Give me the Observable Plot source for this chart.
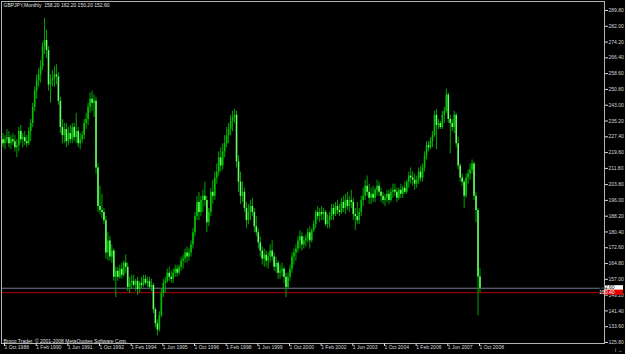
<!DOCTYPE html>
<html><head><meta charset="utf-8">
<script src="https://cdn.jsdelivr.net/npm/d3@7"></script>
<script src="https://cdn.jsdelivr.net/npm/@observablehq/plot@0.6"></script>
<style>
html,body{margin:0;padding:0;background:#000;overflow:hidden;}
svg{display:block}
</style></head><body><div id="chart"></div>
<script>
// Monthly GBPJPY bars, Oct 1988 (index 0) .. Nov 2008 (index 241)
const open = [
226,224,226,227,224,226,225,222,223,230,226,227,225,224,230,234,242,250,255,258,
262,272,275,270,253,255,256,258,257,245,232,228,231,225,229,226,232,227,230,224,
226,228,234,236,242,246,244,245,212,193,191,190,186,170,176,168,171,158,161,158,
162,159,165,163,153,155,156,154,156,152,155,154,157,155,156,153,154,142,135,132,
139,150,155,156,160,158,157,160,162,160,163,166,167,170,168,170,174,180,188,195,
190,196,198,196,185,190,200,198,207,210,217,213,220,224,228,231,235,237,238,215,
205,198,200,192,186,190,193,190,183,180,175,171,167,169,166,168,171,168,163,165,
160,161,162,158,153,158,162,168,170,172,176,178,174,176,177,180,176,181,184,190,
188,190,189,190,184,186,188,192,189,193,191,190,195,192,196,193,196,195,189,188,
186,190,196,198,203,200,197,199,197,201,203,200,198,196,197,199,196,200,201,200,
197,201,199,202,200,205,208,207,206,204,206,210,207,212,218,223,222,225,228,238,
233,234,232,238,240,248,236,234,232,238,224,213,207,205,198,207,209,211,214,198,
191,158.2];
const high = [
229,228,231,230,228,229,228,226,232,233,229,230,228,232,236,244,252,258,261,265,
274,286,280,272,258,260,262,263,259,247,236,234,234,232,233,234,234,239,232,229,
230,236,239,244,249,250,248,247,214,203,199,192,188,180,178,174,172,163,163,164,
165,166,169,165,158,159,159,157,158,156,158,159,159,158,158,157,155,143,137,141,
152,157,158,162,163,161,162,164,164,164,168,169,172,173,172,176,182,190,198,200,
198,201,205,198,192,202,206,210,214,220,222,224,228,232,234,238,240,241,240,218,
210,205,202,195,194,196,197,192,188,182,178,173,172,171,170,174,176,170,168,166,
164,165,163,160,160,164,170,172,174,178,181,180,178,179,182,183,182,186,191,193,
192,193,192,191,189,190,194,194,195,196,194,197,198,199,200,198,201,197,192,195,
192,198,202,206,208,204,202,203,202,206,205,202,200,199,201,201,202,204,204,202,
202,204,203,205,206,210,212,210,209,208,212,213,214,220,225,225,227,230,240,241,
236,235,240,242,251,249,238,236,240,239,227,214,209,206,209,211,214,216,215,200,
192,162.2];
const low = [
222,221,224,222,221,223,220,217,220,224,222,223,222,223,225,232,240,246,252,254,
260,268,266,250,244,252,252,253,243,229,224,224,222,223,224,224,225,224,222,221,
224,226,231,233,239,240,237,209,190,189,187,184,167,166,166,165,156,148,156,157,
157,158,160,151,150,152,153,151,149,150,152,153,154,153,152,151,140,133,129,131,
138,148,150,155,156,155,155,158,158,159,161,162,165,165,166,168,172,178,186,186,
188,190,193,180,183,188,194,196,204,208,210,211,217,222,224,228,230,234,212,200,
194,195,190,182,184,186,188,180,178,172,168,164,163,163,162,165,166,161,160,157,
157,158,155,148,152,156,160,164,166,170,172,171,172,173,175,172,175,180,182,186,
185,186,186,183,182,182,186,186,188,189,188,189,190,189,191,190,192,186,181,184,
184,188,193,196,198,194,194,195,195,198,198,195,194,193,195,194,195,197,198,195,
196,197,197,199,199,202,204,203,201,202,204,205,205,210,216,220,221,222,227,221,
231,231,231,234,239,234,219,230,229,222,211,205,203,192,197,204,206,209,196,185,
139,150.2];
const close = [
224,226,227,224,226,225,222,223,230,226,227,225,224,230,234,242,250,255,258,262,
272,275,270,253,255,256,258,257,245,232,228,231,225,229,226,232,227,230,224,226,
228,234,236,242,246,244,245,212,193,191,190,186,170,176,168,171,158,161,158,162,
159,165,163,153,155,156,154,156,152,155,154,157,155,156,153,154,142,135,132,139,
150,155,156,160,158,157,160,162,160,163,166,167,170,168,170,174,180,188,195,190,
196,198,196,185,190,200,198,207,210,217,213,220,224,228,231,235,237,238,215,205,
198,200,192,186,190,193,190,183,180,175,171,167,169,166,168,171,168,163,165,160,
161,162,158,153,158,162,168,170,172,176,178,174,176,177,180,176,181,184,190,188,
190,189,190,184,186,188,192,189,193,191,190,195,192,196,193,196,195,189,188,186,
190,196,198,203,200,197,199,197,201,203,200,198,196,197,199,196,200,201,200,197,
201,199,202,200,205,208,207,206,204,206,210,207,212,218,223,222,225,228,238,233,
234,232,238,240,248,236,234,232,238,224,213,207,205,198,207,209,211,214,198,191,
158.2,152.6];

const xTickIndex = [0,16,32,48,64,80,96,112,128,144,160,176,192,208,224,240];
const xTickLabels = ["1 Oct 1988","1 Feb 1990","1 Jun 1991","1 Oct 1992","1 Feb 1994","1 Jun 1995",
  "1 Oct 1996","1 Feb 1998","1 Jun 1999","1 Oct 2000","1 Feb 2002","1 Jun 2003","1 Oct 2004",
  "1 Feb 2006","1 Jun 2007","1 Oct 2008"];
const yTicks = [289.8,282.0,274.2,266.4,258.6,250.8,243.0,235.2,227.4,219.6,211.8,
  203.8,196.0,188.2,180.4,172.6,164.8,157.0,149.2,141.4,133.6,125.8];
const bidPrice = 152.60;
const linePrice = 150.40;
const titleText = "GBPJPY,Monthly  158.20 162.20 150.20 152.60";
const copyright = "Broco Trader, \u00a9 2001-2008 MetaQuotes Software Corp.";

const bars = close.map((c, i) => ({i, open: open[i], high: high[i], low: low[i], close: c}));

const W = 625, H = 354, mR = 21, mB = 11;
const font = "'Liberation Sans', Arial, sans-serif";

const chart = Plot.plot({
  width: W, height: H,
  marginLeft: 1, marginTop: 1, marginRight: mR, marginBottom: mB,
  style: {background: "#000", color: "#e0e0e0", fontFamily: font, fontSize: "5px"},
  x: {domain: [0, 240], range: [2.5, 477.5], axis: null},
  y: {domain: [125.8, 289.8], range: [342, 10], axis: null},
  marks: [
    Plot.ruleY([bidPrice], {stroke: "#6d7d92", strokeWidth: 1}),
    Plot.ruleY([linePrice], {stroke: "#b00000", strokeWidth: 1}),
    Plot.ruleX(bars, {x: "i", y1: "low", y2: "high", stroke: "#00a400", strokeWidth: 1}),
    Plot.ruleX(bars, {x: "i", y1: "open", y2: "close",
      stroke: d => d.close >= d.open ? "#00c400" : "#66ff66", strokeWidth: 1.6}),
    Plot.frame({stroke: "#b4b4b4"}),
    Plot.axisY(yTicks, {anchor: "right", tickSize: 3, tickPadding: 1,
      tickFormat: d => d.toFixed(2), color: "#d8d8d8", fontSize: 5}),
    Plot.axisX(xTickIndex, {anchor: "bottom", tickSize: 3, tickPadding: -1,
      tickFormat: d => xTickLabels[xTickIndex.indexOf(d)], textAnchor: "start", dx: 1.5,
      color: "#d8d8d8", fontSize: 5}),
    Plot.text([titleText], {frameAnchor: "top-left", dx: 2, dy: 2, lineAnchor: "top",
      textAnchor: "start", fill: "#e0e0e0", fontSize: 5}),
    Plot.text([copyright], {frameAnchor: "bottom-left", dx: 2, dy: -0.5, lineAnchor: "bottom",
      textAnchor: "start", fill: "#e0e0e0", fontSize: 5})
  ]
});

// price label boxes on the right axis, positioned through the plot's y scale
const ys = chart.scale("y");
const svg = d3.select(chart);
[{p: bidPrice, bg: "#ffffff", fg: "#000000"}, {p: linePrice, bg: "#e00000", fg: "#ffffff"}].forEach(o => {
  const yy = ys.apply(o.p);
  svg.append("rect").attr("x", W - mR + 1).attr("y", yy - 2.6).attr("width", 18).attr("height", 5.2)
    .attr("fill", o.bg);
  svg.append("text").attr("x", W - mR + 3).attr("y", yy).attr("dy", "0.35em")
    .attr("fill", o.fg).attr("font-size", 5).attr("font-family", font).text(o.p.toFixed(2));
});

document.getElementById("chart").append(chart);
</script>
</body></html>
